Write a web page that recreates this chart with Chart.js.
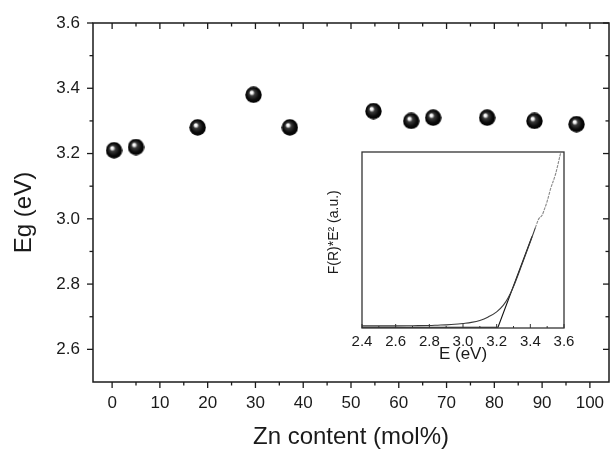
<!DOCTYPE html>
<html><head><meta charset="utf-8">
<script src="https://cdn.jsdelivr.net/npm/chart.js@4.4.0/dist/chart.umd.min.js"></script>
<style>
html,body{margin:0;padding:0;background:#fff;}
#wrap{position:relative;width:610px;height:453px;overflow:hidden;}
#main{position:absolute;left:0;top:0;}
#inset{position:absolute;left:310px;top:145px;}
</style></head><body>
<div id="wrap"><canvas id="main" width="610" height="453"></canvas><canvas id="inset" width="270" height="225"></canvas></div>
<script>
// ---- main chart data ----
const znContent = [0.4, 5.0, 17.9, 29.6, 37.2, 54.7, 62.6, 67.2, 78.5, 88.4, 97.2];
const bandGap   = [3.21, 3.22, 3.28, 3.38, 3.28, 3.33, 3.30, 3.31, 3.31, 3.30, 3.29];
const xMajorTicks = [0, 10, 20, 30, 40, 50, 60, 70, 80, 90, 100];
const xTickLabels = ['0', '10', '20', '30', '40', '50', '60', '70', '80', '90', '100'];
const xMinorTicks = [5, 15, 25, 35, 45, 55, 65, 75, 85, 95];
const yMajorTicks = [2.6, 2.8, 3.0, 3.2, 3.4, 3.6];
const yTickLabels = ['2.6', '2.8', '3.0', '3.2', '3.4', '3.6'];
const yMinorTicks = [2.7, 2.9, 3.1, 3.3, 3.5];

// ---- inset data ----
const insetEnergy = [2.40, 2.50, 2.60, 2.70, 2.80, 2.85, 2.90, 2.95, 3.00, 3.05, 3.10, 3.15, 3.20, 3.24, 3.27, 3.30, 3.35, 3.40, 3.43];
const insetSignal = [0.012, 0.012, 0.012, 0.013, 0.014, 0.016, 0.018, 0.021, 0.026, 0.032, 0.043, 0.063, 0.092, 0.13, 0.175, 0.235, 0.36, 0.49, 0.57];
const insetUpperEnergy = [3.43, 3.45, 3.47, 3.48, 3.50, 3.52, 3.55, 3.58];
const insetUpperSignal = [0.57, 0.62, 0.64, 0.665, 0.72, 0.79, 0.875, 0.995];
const tangentEnergy = [2.40, 3.208, 3.41];
const tangentSignal = [0.004, 0.004, 0.52];
const insetMajorTicks = [2.4, 2.6, 2.8, 3.0, 3.2, 3.4, 3.6];
const insetTickLabels = ['2.4', '2.6', '2.8', '3.0', '3.2', '3.4', '3.6'];
const insetMinorTicks = [2.5, 2.7, 2.9, 3.1, 3.3, 3.5];

const FONT = "'Liberation Sans', Arial, Helvetica, sans-serif";

// sphere marker
function makeSphere(d) {
  const c = document.createElement('canvas');
  c.width = c.height = d;
  const g = c.getContext('2d');
  const r = d / 2;
  const grad = g.createRadialGradient(r - 2.2, r - 2.6, 0.3, r, r, r);
  grad.addColorStop(0, '#ffffff');
  grad.addColorStop(0.13, '#f2f2f2');
  grad.addColorStop(0.32, '#3a3a3a');
  grad.addColorStop(0.7, '#0a0a0a');
  grad.addColorStop(1, '#000000');
  g.fillStyle = grad;
  g.beginPath(); g.arc(r, r, r - 0.3, 0, Math.PI * 2); g.fill();
  return c;
}
const sphere = makeSphere(17);

function line(ctx, x1, y1, x2, y2) { ctx.beginPath(); ctx.moveTo(x1, y1); ctx.lineTo(x2, y2); ctx.stroke(); }

const mainFrame = {
  id: 'mainFrame',
  beforeDatasetsDraw(chart) {
    const { ctx, chartArea: { left, right, top, bottom }, scales: { x, y } } = chart;
    ctx.save();
    ctx.strokeStyle = '#1a1a1a';
    ctx.lineWidth = 1.5;
    ctx.strokeRect(left, top, right - left, bottom - top);
    ctx.lineWidth = 1.3;
    xMajorTicks.forEach(v => { const p = x.getPixelForValue(v); line(ctx, p, bottom, p, bottom + 6); line(ctx, p, top, p, top + 6); });
    xMinorTicks.forEach(v => { const p = x.getPixelForValue(v); line(ctx, p, bottom, p, bottom + 3.5); line(ctx, p, top, p, top + 3.5); });
    yMajorTicks.forEach(v => { const p = y.getPixelForValue(v); line(ctx, left - 6, p, left, p); line(ctx, right - 6, p, right, p); });
    yMinorTicks.forEach(v => { const p = y.getPixelForValue(v); line(ctx, left - 3.5, p, left, p); line(ctx, right - 3.5, p, right, p); });
    ctx.restore();
  }
};

new Chart(document.getElementById('main'), {
  type: 'scatter',
  data: {
    datasets: [{
      data: znContent.map((v, i) => ({ x: v, y: bandGap[i] })),
      pointStyle: sphere,
      pointRadius: 8,
      pointHoverRadius: 8
    }]
  },
  options: {
    responsive: false,
    animation: false,
    devicePixelRatio: 1,
    layout: { autoPadding: false, padding: { top: 23, right: 1, left: 0, bottom: 0 } },
    plugins: { legend: { display: false }, tooltip: { enabled: false } },
    scales: {
      x: {
        type: 'linear', min: -4, max: 104,
        grid: { display: false, drawTicks: false }, border: { display: false },
        afterBuildTicks: s => { s.ticks = xMajorTicks.map(v => ({ value: v })); },
        afterFit: s => { s.height = 71; s.paddingLeft = 0; s.paddingRight = 0; },
        ticks: { autoSkip: false, maxRotation: 0, padding: 11, color: '#1a1a1a',
          font: { family: FONT, size: 17 }, callback: (v, i) => xTickLabels[i] },
        title: { display: true, text: 'Zn content (mol%)', color: '#1a1a1a',
          font: { family: FONT, size: 24 }, padding: { top: 0, bottom: 1 } }
      },
      y: {
        type: 'linear', min: 2.5, max: 3.6,
        grid: { display: false, drawTicks: false }, border: { display: false },
        afterBuildTicks: s => { s.ticks = yMajorTicks.map(v => ({ value: v })); },
        afterFit: s => { s.width = 93; s.paddingTop = 0; s.paddingBottom = 0; },
        ticks: { autoSkip: false, padding: 13, color: '#1a1a1a',
          font: { family: FONT, size: 17 }, callback: (v, i) => yTickLabels[i] },
        title: { display: true, text: 'Eg (eV)   ', color: '#1a1a1a',
          font: { family: FONT, size: 24 }, padding: { top: 10, bottom: 0 } }
      }
    }
  },
  plugins: [mainFrame]
});

const insetFrame = {
  id: 'insetFrame',
  afterDatasetsDraw(chart) {
    const { ctx, chartArea: { left, right, top, bottom }, scales: { x } } = chart;
    ctx.save();
    ctx.strokeStyle = '#333';
    ctx.lineWidth = 1.3;
    ctx.strokeRect(left, top, right - left, bottom - top);
    ctx.lineWidth = 1;
    insetMajorTicks.forEach(v => { const p = x.getPixelForValue(v); line(ctx, p, bottom, p, bottom - 4); });
    insetMinorTicks.forEach(v => { const p = x.getPixelForValue(v); line(ctx, p, bottom, p, bottom - 2); });
    ctx.restore();
  }
};

new Chart(document.getElementById('inset'), {
  type: 'scatter',
  data: {
    datasets: [
      { data: insetEnergy.map((v, i) => ({ x: v, y: insetSignal[i] })), showLine: true, pointRadius: 0,
        borderColor: '#3a3a3a', borderWidth: 1.1, cubicInterpolationMode: 'monotone' },
      { data: insetUpperEnergy.map((v, i) => ({ x: v, y: insetUpperSignal[i] })), showLine: true, pointRadius: 0,
        borderColor: '#8a8a8a', borderWidth: 1.1, borderDash: [3, 1], cubicInterpolationMode: 'monotone' },
      { data: tangentEnergy.map((v, i) => ({ x: v, y: tangentSignal[i] })), showLine: true, pointRadius: 0,
        borderColor: '#111', borderWidth: 1.1, tension: 0 }
    ]
  },
  options: {
    responsive: false,
    animation: false,
    devicePixelRatio: 1,
    layout: { autoPadding: false, padding: { top: 7, right: 16, left: 0, bottom: 0 } },
    plugins: { legend: { display: false }, tooltip: { enabled: false } },
    scales: {
      x: {
        type: 'linear', min: 2.4, max: 3.6,
        grid: { display: false, drawTicks: false }, border: { display: false },
        afterBuildTicks: s => { s.ticks = insetMajorTicks.map(v => ({ value: v })); },
        afterFit: s => { s.height = 42; s.paddingLeft = 0; s.paddingRight = 0; },
        ticks: { autoSkip: false, maxRotation: 0, padding: 5, color: '#1a1a1a',
          font: { family: FONT, size: 15 }, callback: (v, i) => insetTickLabels[i] },
        title: { display: true, text: 'E (eV)', color: '#1a1a1a',
          font: { family: FONT, size: 17 }, padding: { top: 0, bottom: 5 } }
      },
      y: {
        type: 'linear', min: 0, max: 1,
        grid: { display: false, drawTicks: false }, border: { display: false },
        afterFit: s => { s.width = 52; s.paddingTop = 0; s.paddingBottom = 0; },
        ticks: { display: false },
        title: { display: true, text: '    F(R)*E² (a.u.)', color: '#1a1a1a',
          font: { family: FONT, size: 14 }, padding: { top: 16, bottom: 0 } }
      }
    }
  },
  plugins: [insetFrame]
});
</script>
</body></html>
